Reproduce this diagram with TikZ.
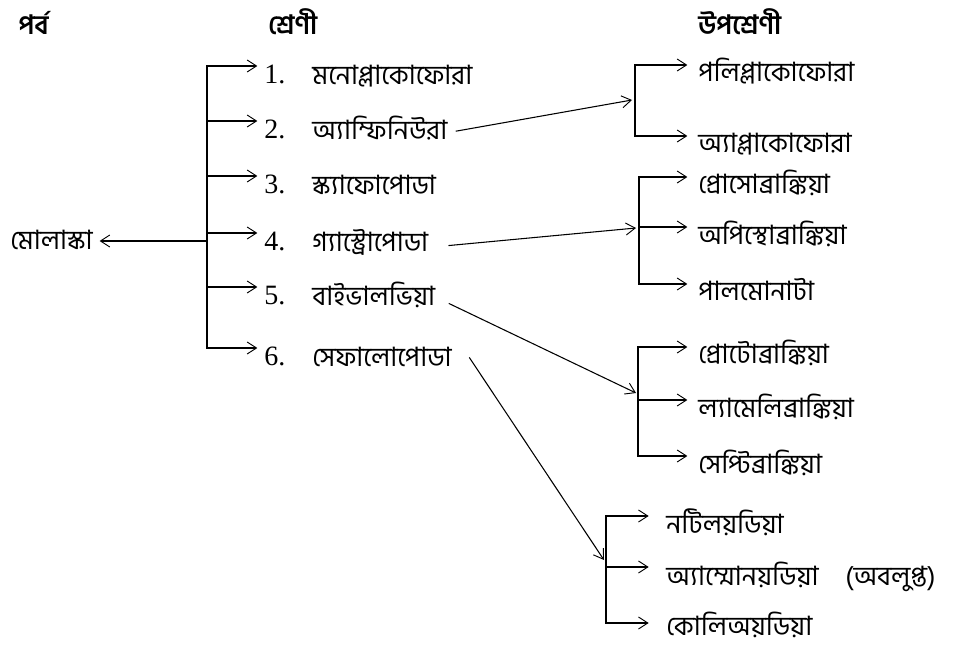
\documentclass[tikz,border=0pt]{standalone}
\usepackage{fontspec}
\setmainfont{Liberation Serif}
\newfontfamily\bn[Script=Bengali]{Hind Siliguri}
\usetikzlibrary{arrows.meta}

\begin{document}
\begin{tikzpicture}[x=0.75pt,y=-0.75pt,
  tip/.style={-{Straight Barb[length=7pt,width=9pt,line width=0.7pt]}},
  spine/.style={line width=1.4pt, line cap=rect},
  branch/.style={line width=1.4pt, tip},
  link/.style={line width=0.8pt, tip},
  head/.style={anchor=base west, inner sep=0pt, font=\bn\bfseries\fontsize{20}{24}\selectfont},
  label/.style={anchor=base west, inner sep=0pt, font=\bn\fontsize{20}{24}\selectfont},
  num/.style={anchor=base west, inner sep=0pt, font=\fontsize{21}{24}\selectfont},
]
\fill[white] (0,0) rectangle (978,648);

% column headings
\node[head] (hp) at (18,35) {পর্ব};
\node[head] (hs) at (268,35) {শ্রেণী};
\node[head] (hu) at (698,35) {উপশ্রেণী};

% phylum
\node[label] (root) at (10,250) {মোলাস্কা};

% classes
\node[num] (n1) at (264,84) {1.};
\node[num] (n2) at (264,139) {2.};
\node[num] (n3) at (264,194) {3.};
\node[num] (n4) at (264,251) {4.};
\node[num] (n5) at (264,305) {5.};
\node[num] (n6) at (264,366) {6.};
\node[label] (c1) at (312,85) {মনোপ্লাকোফোরা};
\node[label] (c2) at (312,140) {অ্যাম্ফিনিউরা};
\node[label] (c3) at (312,195) {স্ক্যাফোপোডা};
\node[label] (c4) at (312,252) {গ্যাস্ট্রোপোডা};
\node[label] (c5) at (312,306) {বাইভালভিয়া};
\node[label] (c6) at (312,367) {সেফালোপোডা};

% subclasses
\node[label] (s11) at (698,82) {পলিপ্লাকোফোরা};
\node[label] (s12) at (698,153) {অ্যাপ্লাকোফোরা};
\node[label] (s21) at (698,194) {প্রোসোব্রাঙ্কিয়া};
\node[label] (s22) at (698,245) {অপিস্থোব্রাঙ্কিয়া};
\node[label] (s23) at (698,301) {পালমোনাটা};
\node[label] (s31) at (698,364) {প্রোটোব্রাঙ্কিয়া};
\node[label] (s32) at (698,417) {ল্যামেলিব্রাঙ্কিয়া};
\node[label] (s33) at (698,473) {সেপ্টিব্রাঙ্কিয়া};
\node[label] (s41) at (666,533) {নটিলয়ডিয়া};
\node[label] (s42) at (666,585) {অ্যাম্মোনয়ডিয়া\hspace{20pt}(অবলুপ্ত)};
\node[label] (s43) at (666,635) {কোলিঅয়ডিয়া};

% left bracket
\coordinate (a1) at (207,66);
\coordinate (a2) at (207,121);
\coordinate (a3) at (207,176);
\coordinate (a4) at (207,233);
\coordinate (a5) at (207,287);
\coordinate (a6) at (207,348);
\coordinate (am) at (207,241);
\draw[spine] (a1) -- (a6);
\foreach \i in {1,...,6}
  \draw[branch, shorten >=5pt] (a\i) -- (a\i -| n\i.west);
\draw[branch, shorten >=5pt] (am) -- (am -| root.east);

% bracket for Amphineura
\coordinate (b11) at (635,65);
\coordinate (b12) at (635,136);
\coordinate (t1) at (632,100);
\draw[spine] (b11) -- (b12);
\draw[branch, shorten >=8pt] (b11) -- (b11 -| s11.west);
\draw[branch, shorten >=8pt] (b12) -- (b12 -| s12.west);

% bracket for Gastropoda
\coordinate (b21) at (639,177);
\coordinate (b22) at (639,227);
\coordinate (b23) at (639,284);
\coordinate (t2) at (636,228);
\draw[spine] (b21) -- (b23);
\draw[branch, shorten >=8pt] (b21) -- (b21 -| s21.west);
\draw[branch, shorten >=8pt] (b22) -- (b22 -| s22.west);
\draw[branch, shorten >=8pt] (b23) -- (b23 -| s23.west);

% bracket for Bivalvia
\coordinate (b31) at (638,347);
\coordinate (b32) at (638,400);
\coordinate (b33) at (638,456);
\coordinate (t3) at (636,393);
\draw[spine] (b31) -- (b33);
\draw[branch, shorten >=8pt] (b31) -- (b31 -| s31.west);
\draw[branch, shorten >=8pt] (b32) -- (b32 -| s32.west);
\draw[branch, shorten >=8pt] (b33) -- (b33 -| s33.west);

% bracket for Cephalopoda
\coordinate (b41) at (606,516);
\coordinate (b42) at (606,567);
\coordinate (b43) at (606,623);
\coordinate (t4) at (604,560);
\draw[spine] (b41) -- (b43);
\draw[branch, shorten >=13pt] (b41) -- (b41 -| s41.west);
\draw[branch, shorten >=13pt] (b42) -- (b42 -| s42.west);
\draw[branch, shorten >=13pt] (b43) -- (b43 -| s43.west);

% class to subclass links
\draw[link] ([xshift=6pt,yshift=-2pt]c2.east) -- (t1);
\draw[link] ([xshift=15pt,yshift=-2pt]c4.east) -- (t2);
\draw[link] ([xshift=10pt,yshift=-6pt]c5.east) -- (t3);
\draw[link] ([xshift=13pt,yshift=0pt]c6.east) -- (t4);
\end{tikzpicture}
\end{document}
